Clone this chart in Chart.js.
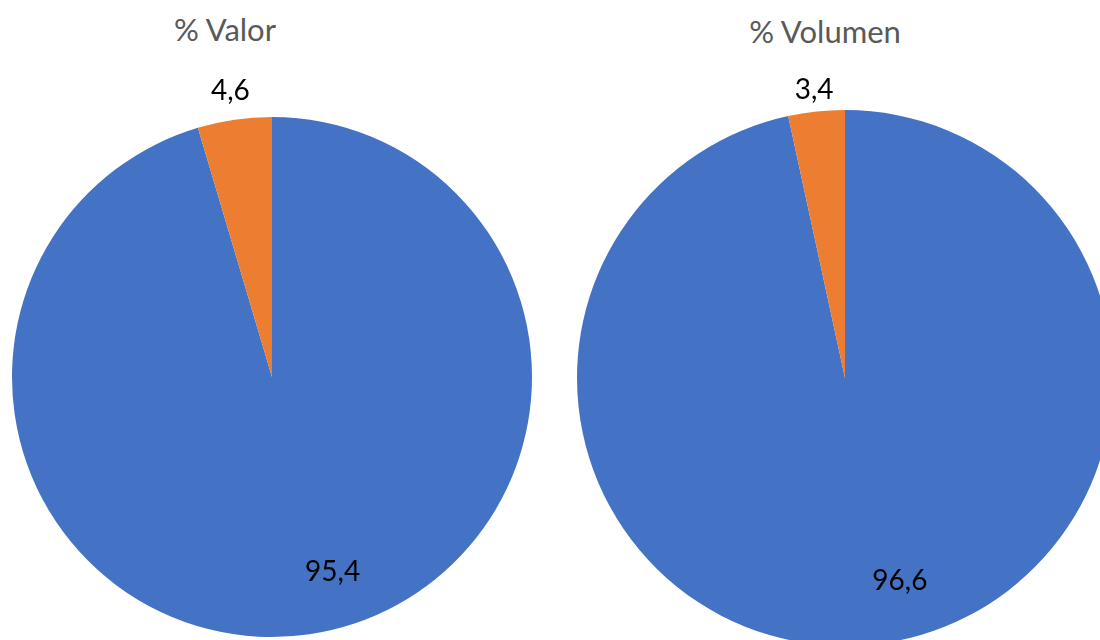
<!DOCTYPE html>
<html>
<head>
<meta charset="utf-8">
<script src="https://cdn.jsdelivr.net/npm/chart.js@4/dist/chart.umd.min.js"></script>
<style>
  html, body { margin: 0; padding: 0; background: #fff; width: 1100px; height: 640px; overflow: hidden; }
  .box { position: absolute; }
  .title { position: absolute; width: 300px; text-align: center; font-family: Lato, "Open Sans", sans-serif; font-size: 31px; line-height: 31px; color: #595959; }
</style>
</head>
<body>
<div class="title" id="t0" style="left:75px; top:14px;"></div>
<div class="title" id="t1" style="left:675px; top:16px;"></div>
<div class="box" style="left:0; top:0;"><canvas id="c0" width="545" height="640"></canvas></div>
<div class="box" style="left:560px; top:0;"><canvas id="c1" width="570" height="660"></canvas></div>
<script>
const categories = ['Categoría 1', 'Categoría 2'];
const chartTitles = ['% Valor', '% Volumen'];
const valorValues = [95.4, 4.6];
const volumenValues = [96.6, 3.4];
const sliceColors = ['#4472C4', '#ED7D31'];

function fmt(v) { return v.toFixed(1).replace('.', ','); }

function makeLabelPlugin(outsideGap) {
  return {
    id: 'sliceLabels',
    afterDatasetsDraw(chart) {
      const ctx = chart.ctx;
      const meta = chart.getDatasetMeta(0);
      const data = chart.data.datasets[0].data;
      ctx.save();
      ctx.font = '28px Lato, "Open Sans", sans-serif';
      ctx.fillStyle = '#000000';
      ctx.textAlign = 'center';
      ctx.textBaseline = 'middle';
      meta.data.forEach((arc, i) => {
        const p = arc.getProps(['x', 'y', 'startAngle', 'endAngle', 'outerRadius'], true);
        const mid = (p.startAngle + p.endAngle) / 2;
        let ang, d;
        if (data[i] < 10) {
          ang = mid; d = p.outerRadius + outsideGap;
        } else {
          ang = mid - 9 * Math.PI / 180; d = p.outerRadius * 0.785;
        }
        ctx.fillText(fmt(data[i]), p.x + Math.cos(ang) * d, p.y + Math.sin(ang) * d);
      });
      ctx.restore();
    }
  };
}

function makePie(id, values, padding, outsideGap) {
  return new Chart(document.getElementById(id), {
    type: 'pie',
    data: {
      labels: categories,
      datasets: [{ data: values, backgroundColor: sliceColors, borderWidth: 0 }]
    },
    options: {
      responsive: false,
      animation: false,
      devicePixelRatio: 1,
      layout: { padding: padding },
      plugins: { legend: { display: false }, tooltip: { enabled: false }, title: { display: false } }
    },
    plugins: [makeLabelPlugin(outsideGap)]
  });
}

document.getElementById('t0').textContent = chartTitles[0];
document.getElementById('t1').textContent = chartTitles[1];
makePie('c0', valorValues, { left: 12, right: 13, top: 117, bottom: 3 }, 29);
makePie('c1', volumenValues, { left: 17, right: 17, top: 110, bottom: 14 }, 22);
</script>
</body>
</html>
